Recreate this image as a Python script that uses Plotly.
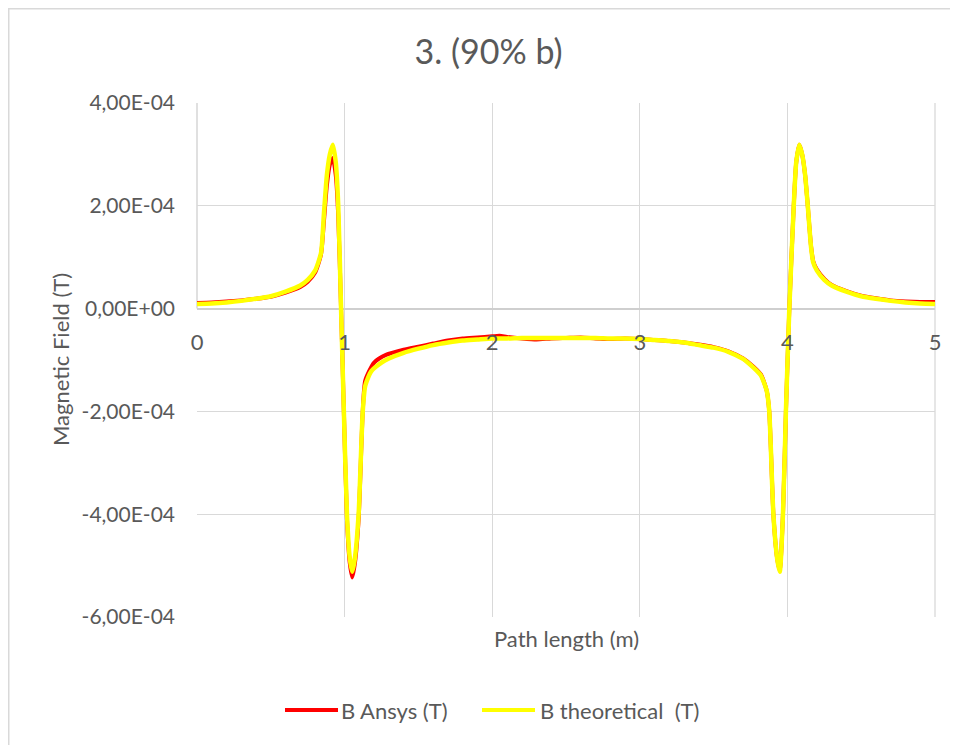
import plotly.graph_objects as go

# ---------------- data (values in units of 1e-4 T) ----------------
x_theo = [0, 0.1, 0.2, 0.3, 0.4, 0.5, 0.6, 0.7, 0.75, 0.8, 0.84, 0.86, 0.88, 0.9, 0.92,
          0.94, 0.957, 0.976, 0.995, 1.016, 1.035, 1.052, 1.07, 1.095, 1.123, 1.14, 1.18,
          1.25, 1.3, 1.4, 1.5, 1.6, 1.7, 1.8, 1.9, 2.0, 2.1, 2.2, 2.3, 2.4, 2.5, 2.6, 2.7,
          2.8, 2.9, 3.0, 3.1, 3.2, 3.3, 3.4, 3.5, 3.6, 3.7, 3.77, 3.82, 3.86, 3.877, 3.905,
          3.93, 3.948, 3.97, 3.99, 4.013, 4.043, 4.06, 4.081, 4.1, 4.12, 4.138, 4.16, 4.175,
          4.2, 4.25, 4.3, 4.4, 4.5, 4.6, 4.7, 4.8, 4.9, 5.0]
y_theo = [0.09, 0.10, 0.12, 0.15, 0.19, 0.24, 0.33, 0.45, 0.56, 0.74, 1.08, 1.85, 2.6, 3.0, 3.19,
          2.85, 2.0, 0.0, -2.0, -4.0, -4.85, -5.12, -4.85, -4.0, -2.0, -1.5, -1.22,
          -1.05, -0.97, -0.86, -0.78, -0.71, -0.66, -0.62, -0.60, -0.58, -0.58, -0.57, -0.57, -0.57, -0.57, -0.57, -0.57,
          -0.58, -0.58, -0.59, -0.61, -0.63, -0.66, -0.71, -0.76, -0.84, -0.98, -1.15, -1.3, -1.6, -2.0, -4.0,
          -4.85, -5.12, -4.0, -2.0, 0.0, 2.0, 2.85, 3.19, 3.0, 2.6, 2.0, 1.2, 0.9,
          0.74, 0.56, 0.45, 0.33, 0.24, 0.19, 0.15, 0.12, 0.10, 0.09]

x_ansys = [0, 0.1, 0.2, 0.3, 0.4, 0.5, 0.6, 0.7, 0.75, 0.8, 0.84, 0.86, 0.88, 0.9, 0.92,
           0.94, 0.957, 0.976, 0.995, 1.016, 1.035, 1.052, 1.07, 1.095, 1.123, 1.14, 1.2,
           1.28, 1.4, 1.5, 1.6, 1.7, 1.8, 1.9, 2.0, 2.05, 2.1, 2.2, 2.3, 2.4, 2.5, 2.6, 2.7,
           2.8, 2.9, 3.0, 3.1, 3.2, 3.3, 3.4, 3.5, 3.6, 3.7, 3.77, 3.82, 3.86, 3.877, 3.905,
           3.93, 3.948, 3.97, 3.99, 4.013, 4.043, 4.06, 4.081, 4.1, 4.12, 4.138, 4.16, 4.175,
           4.2, 4.25, 4.3, 4.4, 4.5, 4.6, 4.7, 4.8, 4.9, 5.0]
y_ansys = [0.11, 0.12, 0.14, 0.16, 0.19, 0.23, 0.31, 0.42, 0.52, 0.70, 1.05, 1.7, 2.4, 2.8, 2.93,
           2.6, 1.8, 0.0, -2.0, -4.1, -4.95, -5.23, -4.95, -4.1, -2.0, -1.4, -1.05,
           -0.9, -0.8, -0.74, -0.68, -0.62, -0.58, -0.56, -0.54, -0.53, -0.55, -0.58, -0.60, -0.58, -0.57, -0.56, -0.58,
           -0.59, -0.58, -0.59, -0.61, -0.63, -0.66, -0.70, -0.75, -0.83, -0.97, -1.13, -1.28, -1.6, -2.0, -4.0,
           -4.85, -5.10, -4.0, -2.0, 0.0, 2.0, 2.85, 3.19, 3.0, 2.6, 2.0, 1.22, 0.92,
           0.76, 0.58, 0.46, 0.34, 0.25, 0.2, 0.16, 0.14, 0.13, 0.13]

scale = 1e-4
y_tick_vals = [-6e-4, -4e-4, -2e-4, 0, 2e-4, 4e-4]
y_tick_text = ["-6,00E-04", "-4,00E-04", "-2,00E-04", "0,00E+00", "2,00E-04", "4,00E-04"]
x_tick_vals = [0, 1, 2, 3, 4, 5]
x_tick_text = ["0", "1", "2", "3", "4", "5"]

title_text = "3. (90% b)"
x_title = "Path length (m)"
y_title = "Magnetic Field (T)"
name_ansys = "B Ansys (T)"
name_theo = "B theoretical  (T)"
color_ansys = "#ff0000"
color_theo = "#ffff00"

FONT = "Lato"
TXT = "#595959"
GRID = "#d9d9d9"

# figure geometry (page has an 8px body margin)
W, H = 950, 737
L, R, T, B = 189, 23, 95, 128
PW, PH = W - L - R, H - T - B


def px_x(fx):  # figure px -> paper x
    return (fx - L) / PW


def px_y(fy):  # figure px -> paper y
    return (H - B - fy) / PH


fig = go.Figure()
fig.add_trace(go.Scatter(x=x_ansys, y=[v * scale for v in y_ansys], mode="lines", name=name_ansys,
                         showlegend=False,
                         line=dict(color=color_ansys, width=4, shape="spline", smoothing=0.6)))
fig.add_trace(go.Scatter(x=x_theo, y=[v * scale for v in y_theo], mode="lines", name=name_theo,
                         showlegend=False,
                         line=dict(color=color_theo, width=4.5, shape="spline", smoothing=0.6)))

legend_y = 702
shapes = [
    # outer chart border
    dict(type="rect", xref="paper", yref="paper",
         x0=px_x(0.75), x1=px_x(W + 20), y0=px_y(H + 20), y1=px_y(0.75),
         line=dict(color=GRID, width=1.5), fillcolor="rgba(0,0,0,0)", layer="below"),
    # right edge gridline (x = 5) and left line above zero (x = 0)
    dict(type="line", xref="paper", yref="paper", x0=1, x1=1, y0=0, y1=1,
         line=dict(color=GRID, width=1.3), layer="below"),
    dict(type="line", xref="paper", yref="paper", x0=0, x1=0, y0=0.6, y1=1,
         line=dict(color="#cfcfcf", width=1.3), layer="below"),
    # legend samples
    dict(type="line", xref="paper", yref="paper", x0=px_x(277), x1=px_x(330),
         y0=px_y(legend_y), y1=px_y(legend_y), line=dict(color=color_ansys, width=4)),
    dict(type="line", xref="paper", yref="paper", x0=px_x(474), x1=px_x(527),
         y0=px_y(legend_y), y1=px_y(legend_y), line=dict(color=color_theo, width=4)),
]

annotations = [
    dict(text=x_title, xref="paper", yref="paper", x=0.5, y=px_y(630),
         xanchor="center", yanchor="middle", showarrow=False,
         font=dict(family=FONT, size=22, color=TXT)),
    dict(text=y_title, xref="paper", yref="paper", x=px_x(52), y=0.5,
         xanchor="center", yanchor="middle", showarrow=False, textangle=-90,
         font=dict(family=FONT, size=22, color=TXT)),
    dict(text=name_ansys, xref="paper", yref="paper", x=px_x(331), y=px_y(legend_y),
         xanchor="left", yanchor="middle", showarrow=False,
         font=dict(family=FONT, size=22, color=TXT)),
    dict(text=name_theo.replace("  ", "&nbsp; "), xref="paper", yref="paper", x=px_x(530),
         y=px_y(legend_y), xanchor="left", yanchor="middle", showarrow=False,
         font=dict(family=FONT, size=22, color=TXT)),
]

fig.update_layout(
    width=W, height=H,
    margin=dict(l=L, r=R, t=T, b=B),
    paper_bgcolor="white", plot_bgcolor="white",
    font=dict(family=FONT, color=TXT, size=22),
    title=dict(text=title_text, x=480.5 / W, xref="container", xanchor="center",
               y=1 - 44 / H, yref="container", yanchor="middle",
               font=dict(family=FONT, size=34, color=TXT)),
    showlegend=False,
    xaxis=dict(range=[0, 5], tickvals=x_tick_vals, ticktext=x_tick_text,
               showgrid=True, gridcolor=GRID, gridwidth=1.3, zeroline=False, showline=False,
               anchor="free", position=0.6, ticks="", ticklabelstandoff=18,
               tickfont=dict(family=FONT, size=22, color=TXT)),
    yaxis=dict(range=[-6e-4, 4e-4], tickvals=y_tick_vals, ticktext=y_tick_text,
               showgrid=True, gridcolor=GRID, gridwidth=1.3, zeroline=True,
               zerolinecolor="#cfcfcf", zerolinewidth=1.5, showline=False, ticks="",
               ticklabelstandoff=21, tickfont=dict(family=FONT, size=21, color=TXT)),
    annotations=annotations,
    shapes=shapes,
)

fig.write_html("out.html")
